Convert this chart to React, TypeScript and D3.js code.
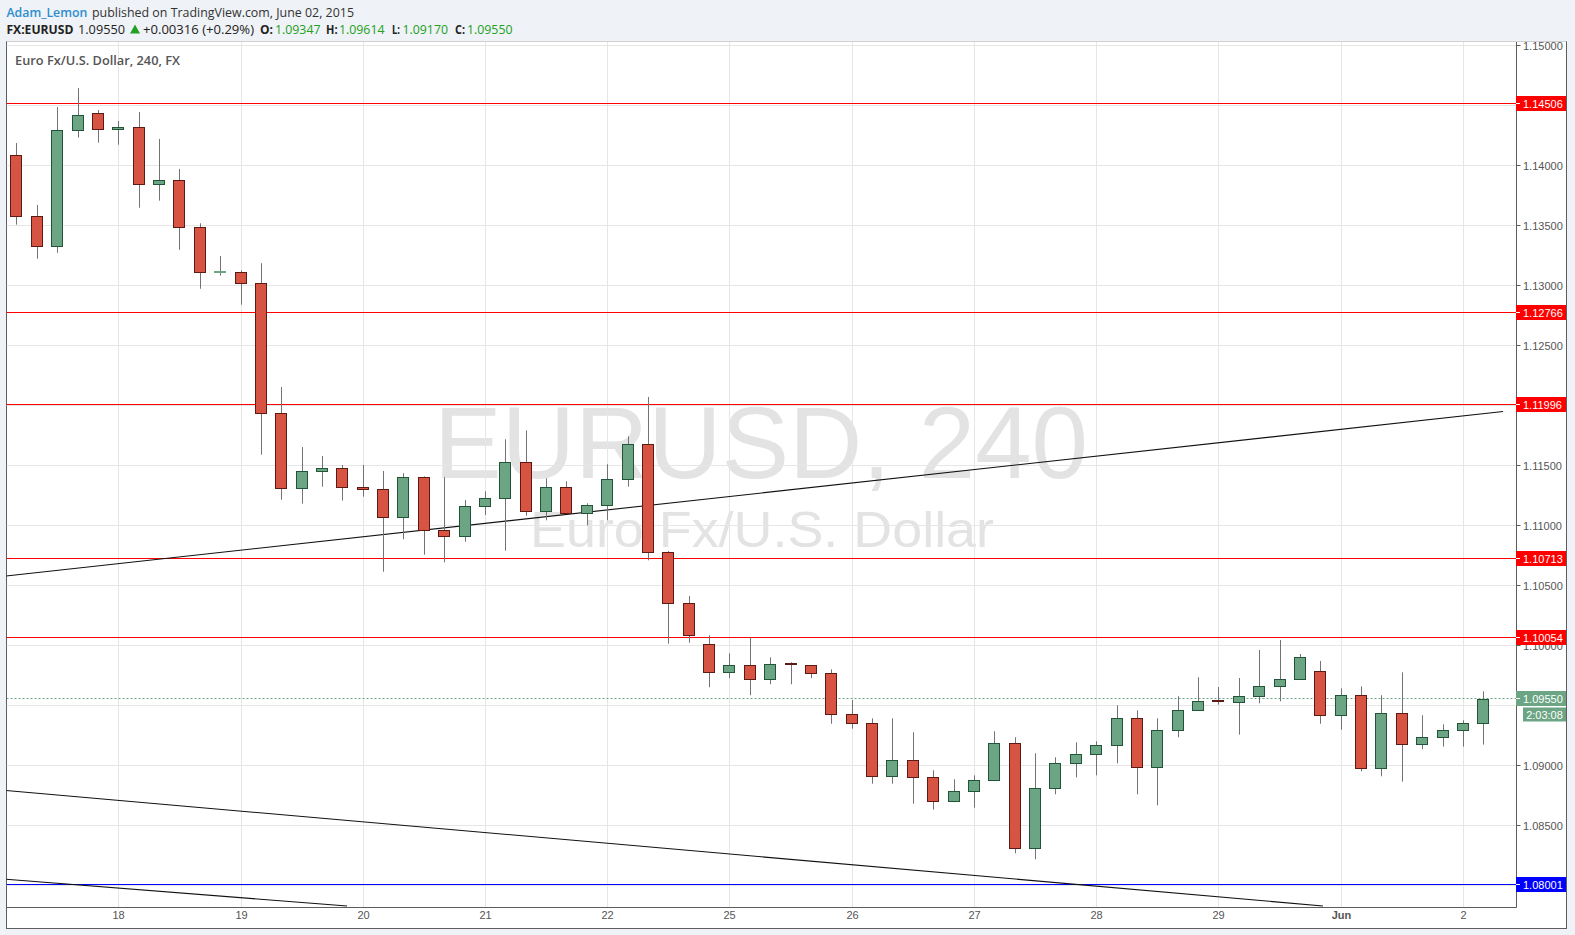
import React, { useEffect } from 'react';
import * as d3 from 'd3';

const W = 1575;
const H = 935;

// 4-hour candles, EURUSD, May 17 – Jun 2 2015
const opens = [
  1.14081, 1.13572, 1.13323, 1.14289, 1.14431, 1.14297, 1.14314, 1.13839, 1.13872, 1.13481,
  1.13104, 1.13106, 1.13014, 1.11931, 1.11306, 1.11448, 1.11473, 1.11314, 1.11298, 1.11064,
  1.11398, 1.10956, 1.10906, 1.11156, 1.11222, 1.11522, 1.11114, 1.11314, 1.11097, 1.11164,
  1.11381, 1.11673, 1.10773, 1.10348, 1.10006, 1.09773, 1.09831, 1.09714, 1.09839, 1.09831,
  1.09764, 1.09423, 1.09348, 1.08906, 1.09039, 1.08897, 1.08697, 1.08781, 1.08872, 1.09181,
  1.08306, 1.08806, 1.09014, 1.09089, 1.09164, 1.09389, 1.08981, 1.09289, 1.09456, 1.09533,
  1.09522, 1.09573, 1.09656, 1.09714, 1.09781, 1.09414, 1.09581, 1.08973, 1.09431, 1.09173,
  1.09231, 1.09289, 1.09347,
];
const highs = [
  1.14183, 1.13667, 1.14483, 1.14642, 1.14458, 1.14367, 1.14442, 1.14217, 1.13967, 1.13514,
  1.13242, 1.13122, 1.13181, 1.1215, 1.1165, 1.11575, 1.115, 1.115, 1.1145, 1.11431,
  1.11405, 1.11398, 1.11208, 1.11281, 1.11714, 1.11789, 1.11389, 1.11364, 1.11181, 1.11506,
  1.11739, 1.12067, 1.10783, 1.10408, 1.10081, 1.09931, 1.10064, 1.09897, 1.09856, 1.09831,
  1.09797, 1.09542, 1.09389, 1.09389, 1.09273, 1.08956, 1.08881, 1.08914, 1.09281, 1.09231,
  1.09098, 1.09064, 1.09189, 1.09198, 1.09498, 1.09456, 1.09389, 1.09573, 1.09731, 1.0965,
  1.09725, 1.09958, 1.10042, 1.09925, 1.09867, 1.09639, 1.09656, 1.09581, 1.09772, 1.09414,
  1.09339, 1.09373, 1.09614,
];
const lows = [
  1.13503, 1.13219, 1.13269, 1.14228, 1.14186, 1.14169, 1.13644, 1.13703, 1.13294, 1.12969,
  1.13078, 1.12836, 1.11586, 1.11211, 1.11178, 1.11319, 1.11203, 1.11236, 1.10611, 1.10881,
  1.10753, 1.10689, 1.10861, 1.11083, 1.10786, 1.11078, 1.11039, 1.11097, 1.10997, 1.11039,
  1.11319, 1.10706, 1.10011, 1.10019, 1.09648, 1.09723, 1.09581, 1.09673, 1.09673, 1.09723,
  1.09344, 1.09303, 1.08844, 1.08844, 1.08678, 1.08628, 1.0869, 1.08644, 1.08865, 1.08264,
  1.08214, 1.08756, 1.08897, 1.08914, 1.09014, 1.08756, 1.08664, 1.09231, 1.0945, 1.09503,
  1.09253, 1.09514, 1.09531, 1.0971, 1.09344, 1.09294, 1.08947, 1.08906, 1.08861, 1.09131,
  1.09153, 1.09153, 1.0917,
];
const closes = [
  1.13572, 1.13323, 1.14289, 1.14414, 1.14297, 1.14314, 1.13839, 1.13872, 1.13481, 1.13106,
  1.13108, 1.13017, 1.11931, 1.11306, 1.11448, 1.11473, 1.11314, 1.11298, 1.11064, 1.11398,
  1.10956, 1.10906, 1.11156, 1.11222, 1.11522, 1.11114, 1.11314, 1.11097, 1.11164, 1.11381,
  1.11673, 1.10773, 1.10348, 1.10081, 1.09773, 1.09831, 1.09714, 1.09839, 1.09831, 1.09764,
  1.09423, 1.09348, 1.08906, 1.09039, 1.08897, 1.08697, 1.08781, 1.08872, 1.09181, 1.08306,
  1.08806, 1.09014, 1.09089, 1.09164, 1.09389, 1.08981, 1.09289, 1.09456, 1.09531, 1.09522,
  1.09573, 1.09656, 1.09714, 1.09897, 1.09414, 1.09581, 1.08973, 1.09431, 1.09173, 1.09231,
  1.09289, 1.09348, 1.0955,
];

const dayTickIndex = [5, 11, 17, 23, 29, 35, 41, 47, 53, 59, 65, 71];
const dayTickLabels = ['18', '19', '20', '21', '22', '25', '26', '27', '28', '29', 'Jun', '2'];
const priceTicks = [1.08, 1.085, 1.09, 1.095, 1.1, 1.105, 1.11, 1.115, 1.12, 1.125, 1.13, 1.135, 1.14, 1.145, 1.15];
const resistanceLevels = [1.14506, 1.12766, 1.11996, 1.10713, 1.10054];
const supportLevels = [1.08001];
const lastPrice = 1.0955;
const countdownText = '2:03:08';
const trendlineStarts = [[-0.51, 1.10575], [-0.51, 1.08787], [-0.51, 1.08048]];
const trendlineEnds = [[72.97, 1.11946], [64.13, 1.07825], [16.23, 1.07825]];

const headerAuthor = 'Adam_Lemon';
const headerPublished = 'published on TradingView.com, June 02, 2015';
const paneTitle = 'Euro Fx/U.S. Dollar, 240, FX';
const quoteSymbol = 'FX:EURUSD';
const quoteLast = '1.09550';
const quoteChange = '+0.00316 (+0.29%)';
const ohlcKeys = ['O:', 'H:', 'L:', 'C:'];
const ohlcValues = ['1.09347', '1.09614', '1.09170', '1.09550'];

const UP_FILL = '#6ba583';
const UP_BORDER = '#225437';
const DOWN_FILL = '#d75442';
const DOWN_BORDER = '#5b1a13';
const WICK = '#737375';
const AXIS_TEXT = '#555555';
const GRID = '#e6e6e6';
const VALUE_GREEN = '#22a022';

const PLOT_L = 6.5;
const PLOT_R = 1516.5;
const PLOT_T = 42;
const PLOT_B = 907.5;

// header x layout (keys / values)
const OHLC_KEY_X = [260, 326, 392, 455];
const OHLC_KEY_W = [13, 11.5, 8, 10];
const OHLC_VAL_X = [275, 339, 402.5, 467];
const OHLC_VAL_W = 45.5;

export default function App() {
  useEffect(() => {
    document.body.style.margin = '0';
    document.body.style.overflow = 'hidden';
  }, []);

  const x = d3.scaleLinear().domain([0, 72]).range([16.4, 1483.3]);
  const y = d3.scaleLinear().domain([1.15, 1.08]).range([45, 885]);
  const fmt = d3.format('.5f');
  const line = d3.line<number[]>().x((d) => x(d[0])).y((d) => y(d[1]));

  const axisFont = 'Arial, "Liberation Sans", sans-serif';
  const uiFont = '"Open Sans", Arial, sans-serif';

  const rowY = (v: number) => Math.floor(y(v) - 0.6) + 0.5;

  const candles = opens.map((o, i) => {
    const c = closes[i];
    const up = c >= o;
    const cx = Math.round(x(i));
    const top = Math.round(y(Math.max(o, c)));
    const bot = Math.round(y(Math.min(o, c)));
    const h = bot - top;
    return (
      <g key={i}>
        <line x1={cx + 0.5} x2={cx + 0.5} y1={y(highs[i])} y2={y(lows[i])} stroke={WICK} strokeWidth={1} />
        {h < 2 ? (
          <rect x={cx - 6} y={top - 1} width={12} height={2} fill={up ? UP_FILL : DOWN_BORDER} />
        ) : (
          <rect
            x={cx - 5.5}
            y={top + 0.5}
            width={11}
            height={h}
            fill={up ? UP_FILL : DOWN_FILL}
            stroke={up ? UP_BORDER : DOWN_BORDER}
            strokeWidth={1}
          />
        )}
      </g>
    );
  });

  const levelLabel = (v: number, bg: string, key: string) => {
    const cy = rowY(v);
    return (
      <g key={key}>
        <rect x={1516} y={cy - 7.5} width={50} height={15} fill={bg} />
        <line x1={1516} x2={1520} y1={cy} y2={cy} stroke="#ffffff" />
        <text x={1523} y={cy + 4} fontSize={11} fill="#ffffff" fontFamily={axisFont}>{fmt(v)}</text>
      </g>
    );
  };

  const labelCenters = [...resistanceLevels, ...supportLevels].map(rowY);
  const lastY = rowY(lastPrice);
  const tickVisible = (p: number) => {
    const py = Math.round(y(p)) + 0.5;
    if (labelCenters.some((c) => Math.abs(c - py) < 3)) return false;
    if (py > lastY - 2 && py < lastY + 24) return false;
    return true;
  };

  const fit = { lengthAdjust: 'spacingAndGlyphs' as const };

  return (
    <div style={{ position: 'fixed', left: 0, top: 0, width: W, height: H }}>
      <svg width={W} height={H} style={{ display: 'block' }}>
        <defs>
          <clipPath id="plotClip">
            <rect x={PLOT_L} y={PLOT_T} width={PLOT_R - PLOT_L} height={PLOT_B - PLOT_T} />
          </clipPath>
        </defs>
        <rect x={0} y={0} width={W} height={H} fill="#eff2f6" />

        {/* header line 1 */}
        <text x={6.4} y={17} fontSize={13} fontFamily={uiFont} fill="#2e8ece" fontWeight={600}
          textLength={81} {...fit}>{headerAuthor}</text>
        <text x={92} y={17} fontSize={13} fontFamily={uiFont} fill="#333333"
          textLength={262} {...fit}>{headerPublished}</text>

        {/* header line 2 */}
        <g fontSize={13} fontFamily={uiFont} fill="#222222">
          <text x={6.4} y={34} fontWeight={700} textLength={67} {...fit}>{quoteSymbol}</text>
          <text x={78} y={34} textLength={47} {...fit}>{quoteLast}</text>
          <path d="M130,33.5 L135,24.5 L140,33.5 Z" fill={VALUE_GREEN} />
          <text x={143} y={34} textLength={111} {...fit}>{quoteChange}</text>
          {ohlcKeys.map((k, i) => (
            <g key={k}>
              <text x={OHLC_KEY_X[i]} y={34} fontWeight={700} textLength={OHLC_KEY_W[i]} {...fit}>{k}</text>
              <text x={OHLC_VAL_X[i]} y={34} fill={VALUE_GREEN} textLength={OHLC_VAL_W} {...fit}>{ohlcValues[i]}</text>
            </g>
          ))}
        </g>

        {/* panel */}
        <rect x={6.5} y={41.5} width={1560} height={887} fill="#ffffff" stroke="#5d5d5d" strokeWidth={1} />
        <line x1={6.5} x2={1566.5} y1={41.5} y2={41.5} stroke="#cfcfcf" />

        <g clipPath="url(#plotClip)">
          {/* watermark */}
          <text x={761} y={478} fontSize={102} textAnchor="middle" fill="#e3e3e3" fontFamily={axisFont}
            textLength={654} {...fit}>EURUSD, 240</text>
          <text x={762} y={547} fontSize={50} textAnchor="middle" fill="#e3e3e3" fontFamily={axisFont}
            textLength={464} {...fit}>Euro Fx/U.S. Dollar</text>

          {/* grid */}
          {priceTicks.map((p) => (
            <line key={'h' + p} x1={PLOT_L} x2={PLOT_R} y1={Math.round(y(p)) + 0.5} y2={Math.round(y(p)) + 0.5} stroke={GRID} />
          ))}
          {dayTickIndex.map((i) => (
            <line key={'v' + i} x1={Math.round(x(i)) + 0.5} x2={Math.round(x(i)) + 0.5} y1={PLOT_T} y2={PLOT_B} stroke={GRID} />
          ))}

          {/* horizontal levels */}
          {resistanceLevels.map((v) => (
            <line key={'r' + v} x1={PLOT_L} x2={PLOT_R} y1={rowY(v)} y2={rowY(v)} stroke="#ff0000" />
          ))}
          {supportLevels.map((v) => (
            <line key={'s' + v} x1={PLOT_L} x2={PLOT_R} y1={rowY(v)} y2={rowY(v)} stroke="#0000ff" />
          ))}
          <line x1={PLOT_L} x2={PLOT_R} y1={lastY} y2={lastY} stroke={UP_FILL} strokeDasharray="2,2" />

          {/* trendlines */}
          {trendlineStarts.map((s, k) => (
            <path key={'t' + k} d={line([s, trendlineEnds[k]]) || ''} stroke="#111111" strokeWidth={1.1} fill="none" />
          ))}

          {/* candles */}
          {candles}
        </g>

        <text x={15} y={65} fontSize={13} fontWeight={600} fill="#555555" fontFamily={uiFont}
          textLength={165} {...fit}>{paneTitle}</text>

        {/* axes lines */}
        <line x1={PLOT_L} x2={PLOT_R} y1={PLOT_B} y2={PLOT_B} stroke="#5d5d5d" />
        <line x1={PLOT_R} x2={PLOT_R} y1={PLOT_T} y2={PLOT_B} stroke="#5d5d5d" />

        {/* price axis */}
        {priceTicks.map((p) => {
          const py = Math.round(y(p)) + 0.5;
          return (
            <g key={'pt' + p}>
              <line x1={PLOT_R} x2={PLOT_R + 4} y1={py} y2={py} stroke="#5d5d5d" />
              {tickVisible(p) && (
                <text x={1523} y={py + 4} fontSize={11} fill={AXIS_TEXT} fontFamily={axisFont}>{fmt(p)}</text>
              )}
            </g>
          );
        })}
        {resistanceLevels.map((v) => levelLabel(v, '#ff0000', 'rl' + v))}
        {supportLevels.map((v) => levelLabel(v, '#0000ff', 'sl' + v))}
        {levelLabel(lastPrice, UP_FILL, 'last')}
        <rect x={1523} y={lastY + 9} width={43} height={14} fill={UP_FILL} />
        <text x={1544.5} y={lastY + 20} fontSize={11} fill="#ffffff" textAnchor="middle" fontFamily={axisFont}>{countdownText}</text>

        {/* time axis */}
        {dayTickIndex.map((i, k) => (
          <text key={'dt' + i} x={Math.round(x(i)) + 0.5} y={919} fontSize={11} textAnchor="middle"
            fill={AXIS_TEXT} fontFamily={axisFont} fontWeight={dayTickLabels[k] === 'Jun' ? 700 : 400}>
            {dayTickLabels[k]}
          </text>
        ))}
      </svg>
    </div>
  );
}
